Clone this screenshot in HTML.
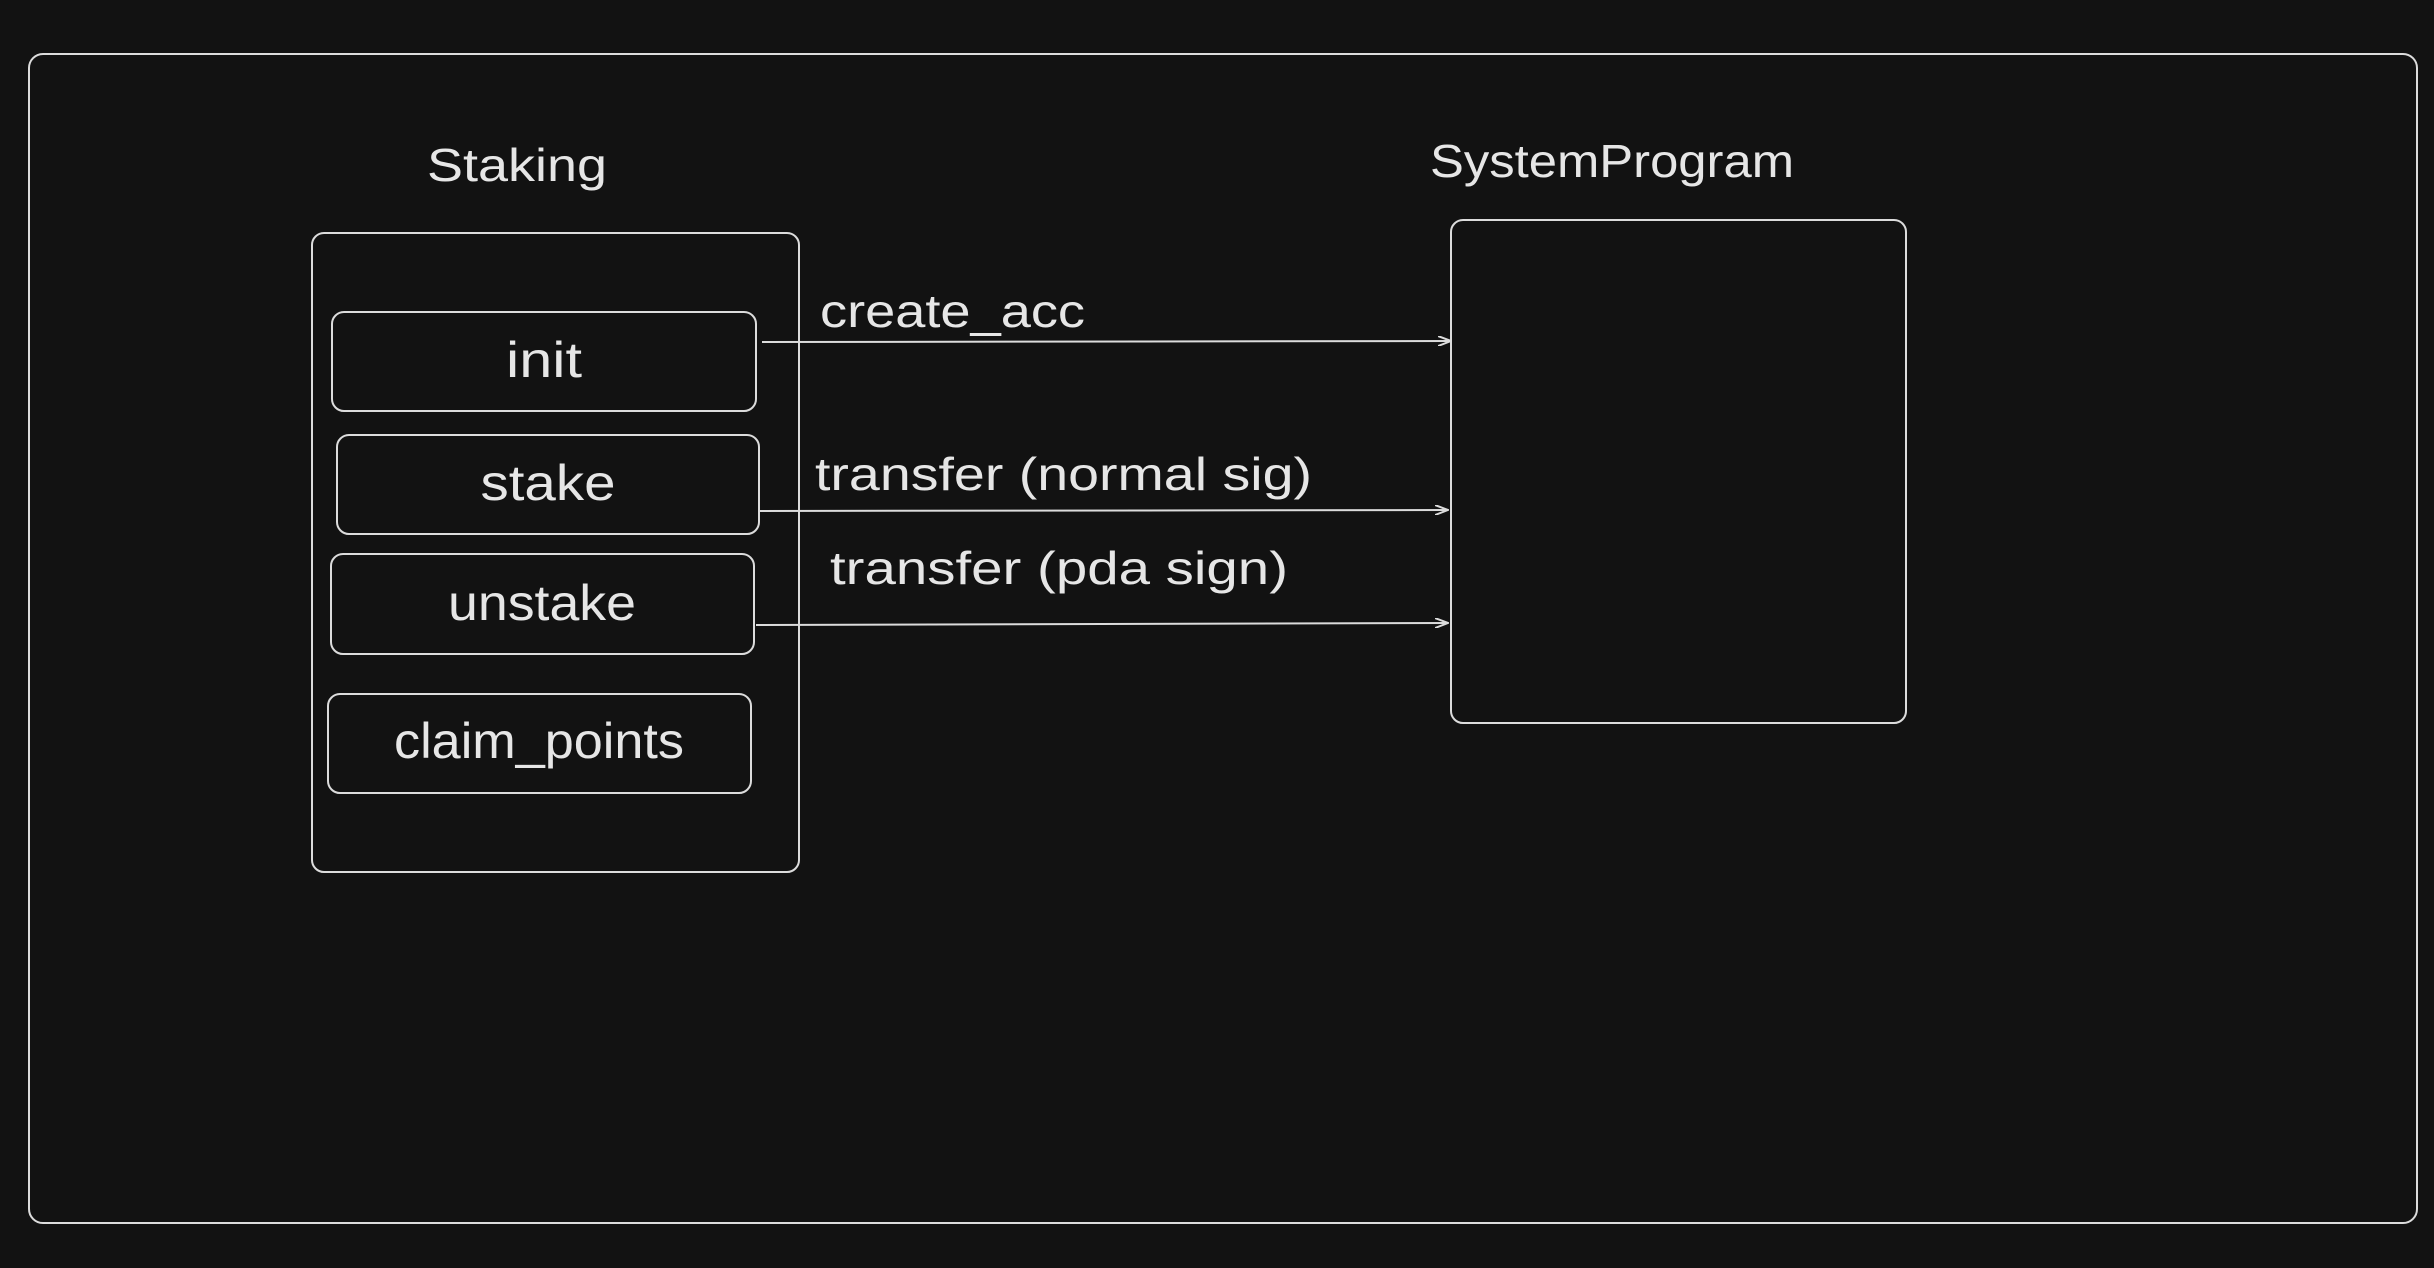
<!DOCTYPE html>
<html><head><meta charset="utf-8"><style>
html,body{margin:0;padding:0;background:#121212;}
svg{display:block}
text{font-family:"Liberation Sans",sans-serif;fill:#e6e6e6;}
</style></head><body>
<svg width="2434" height="1268" viewBox="0 0 2434 1268" xmlns="http://www.w3.org/2000/svg">
<defs><marker id="a" markerWidth="14" markerHeight="10" refX="13" refY="5" orient="auto" markerUnits="userSpaceOnUse"><path d="M0,0 L13,5 L0,10" fill="none" stroke="#ddd" stroke-width="2"/></marker></defs>
<g fill="none" stroke="#dcdcdc" stroke-width="2">
<rect x="29" y="54" width="2388" height="1169" rx="14"/>
<rect x="312" y="233" width="487" height="639" rx="12"/>
<rect x="332" y="312" width="424" height="99" rx="12"/>
<rect x="337" y="435" width="422" height="99" rx="12"/>
<rect x="331" y="554" width="423" height="100" rx="12"/>
<rect x="328" y="694" width="423" height="99" rx="12"/>
<rect x="1451" y="220" width="455" height="503" rx="12"/>
<line x1="762" y1="342" x2="1451" y2="341" marker-end="url(#a)"/>
<line x1="759" y1="511" x2="1448" y2="510" marker-end="url(#a)"/>
<line x1="756" y1="625" x2="1448" y2="623" marker-end="url(#a)"/>
</g>
<g font-size="46">
<text x="517" y="181" text-anchor="middle" textLength="180" lengthAdjust="spacingAndGlyphs">Staking</text>
<text x="1430" y="177" textLength="364" lengthAdjust="spacingAndGlyphs">SystemProgram</text>
<text x="820" y="327" textLength="265" lengthAdjust="spacingAndGlyphs">create_acc</text>
<text x="815" y="490" textLength="497" lengthAdjust="spacingAndGlyphs">transfer (normal sig)</text>
<text x="830" y="584" textLength="458" lengthAdjust="spacingAndGlyphs">transfer (pda sign)</text>
</g>
<g font-size="50" text-anchor="middle">
<text x="544" y="377" textLength="76" lengthAdjust="spacingAndGlyphs">init</text>
<text x="548" y="500" textLength="135" lengthAdjust="spacingAndGlyphs">stake</text>
<text x="542" y="620" textLength="188" lengthAdjust="spacingAndGlyphs">unstake</text>
<text x="539" y="758" textLength="290" lengthAdjust="spacingAndGlyphs">claim_points</text>
</g>
</svg>
</body></html>
